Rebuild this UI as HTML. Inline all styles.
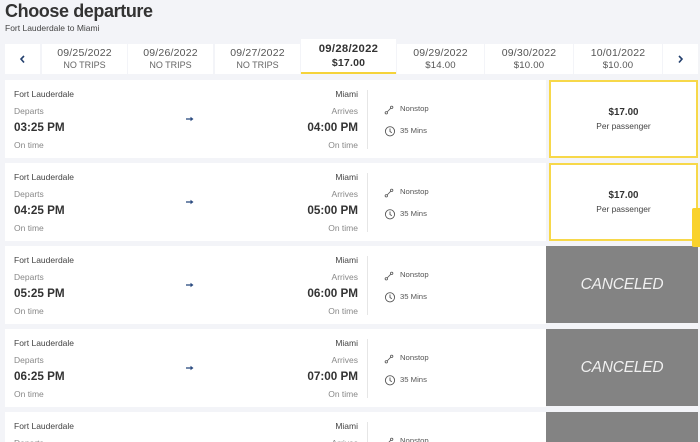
<!DOCTYPE html>
<html><head><meta charset="utf-8"><style>
*{margin:0;padding:0;box-sizing:border-box}
html,body{width:700px;height:442px;overflow:hidden;background:#f3f4f8;font-family:"Liberation Sans",Arial,sans-serif;color:#333}
#wrap{position:relative;width:700px;height:442px;overflow:hidden;background:#f3f4f8}
.a{position:absolute;white-space:nowrap}
.t{line-height:12px;height:12px}
.cell{position:absolute;top:44px;height:30px;background:#fff}
.dd{position:absolute;left:0;right:0;text-align:center;font-size:10.5px;color:#555;line-height:12px;letter-spacing:0.2px}
.ds{position:absolute;left:0;right:0;text-align:center;font-size:9px;color:#666;line-height:12px}
.row{position:absolute;left:5px;width:541px;height:78px;background:#fff}
.sm{font-size:8.5px;color:#444}
.gy{font-size:8.5px;color:#888}
.tm{font-size:11.7px;font-weight:bold;color:#333}
.r{text-align:right;width:150px}
.div{position:absolute;left:367px;width:1px;height:59px;background:#e6e6e6}
.ns{font-size:7.7px;color:#555}
.pb{position:absolute;left:549px;width:149px;height:78px;border:2px solid #f7d84a;background:#fff}
.cb{position:absolute;left:546px;width:152px;height:77px;background:#838383}
.cx{position:absolute;left:0;right:0;top:30px;text-align:center;font-size:15.5px;font-style:italic;color:#f0f0f0;line-height:18px;letter-spacing:-0.2px}
</style></head><body><div id="wrap">

<div class="a" style="left:5px;top:0;font-size:18px;font-weight:bold;line-height:22px;letter-spacing:-0.4px;color:#333">Choose departure</div>
<div class="a t" style="left:5px;top:22px;font-size:8.5px;color:#444">Fort Lauderdale to Miami</div>

<!-- date bar -->
<div class="cell" style="left:5px;width:35px"><svg width="35" height="30" style="position:absolute;left:0;top:0"><polyline points="19,12 16,15 19,18.5" fill="none" stroke="#24406e" stroke-width="1.6"/></svg></div>
<div class="cell" style="left:42px;width:85px"><div class="dd" style="top:2.5px">09/25/2022</div><div class="ds" style="top:15px">NO TRIPS</div></div>
<div class="cell" style="left:128px;width:85px"><div class="dd" style="top:2.5px">09/26/2022</div><div class="ds" style="top:15px">NO TRIPS</div></div>
<div class="cell" style="left:215px;width:85px"><div class="dd" style="top:2.5px">09/27/2022</div><div class="ds" style="top:15px">NO TRIPS</div></div>
<div class="cell" style="left:301px;width:95px;top:39px;height:35px;border-bottom:2px solid #f5d33a"><div class="dd" style="top:4px;font-size:11.3px;font-weight:bold;color:#333;letter-spacing:0.3px">09/28/2022</div><div class="dd" style="top:17.5px;font-size:10.5px;font-weight:bold;color:#333">$17.00</div></div>
<div class="cell" style="left:397px;width:87px"><div class="dd" style="top:2.5px">09/29/2022</div><div class="dd" style="top:15.5px;font-size:9.6px">$14.00</div></div>
<div class="cell" style="left:485px;width:88px"><div class="dd" style="top:2.5px">09/30/2022</div><div class="dd" style="top:15.5px;font-size:9.6px">$10.00</div></div>
<div class="cell" style="left:574px;width:88px"><div class="dd" style="top:2.5px">10/01/2022</div><div class="dd" style="top:15.5px;font-size:9.6px">$10.00</div></div>
<div class="cell" style="left:663px;width:35px"><svg width="35" height="30" style="position:absolute;left:0;top:0"><polyline points="16,12 19,15 16,18.5" fill="none" stroke="#24406e" stroke-width="1.6"/></svg></div>

<!-- Row 1 -->
<div class="row" style="top:80px"></div>
<div class="a t sm" style="left:14px;top:88px">Fort Lauderdale</div>
<div class="a t gy" style="left:14px;top:105px">Departs</div>
<div class="a t tm" style="left:14px;top:122px">03:25 PM</div>
<div class="a t gy" style="left:14px;top:138.5px">On time</div>
<div class="a t sm r" style="left:208px;top:88px">Miami</div>
<div class="a t gy r" style="left:208px;top:105px">Arrives</div>
<div class="a t tm r" style="left:208px;top:122px">04:00 PM</div>
<div class="a t gy r" style="left:208px;top:138.5px">On time</div>
<svg class="a" style="left:186px;top:116px" width="8" height="6"><path d="M0 3H6" stroke="#2a4a7f" stroke-width="1.3"/><path d="M4.5 0.8L7.5 3L4.5 5.2Z" fill="#2a4a7f"/></svg>
<div class="div" style="top:90px"></div>
<svg class="a" style="left:384px;top:105px" width="10" height="10"><circle cx="2.3" cy="7.8" r="1.2" fill="none" stroke="#555" stroke-width="0.8"/><circle cx="7.7" cy="2.3" r="1.2" fill="none" stroke="#555" stroke-width="0.8"/><path d="M3.2 6.9L6.8 3.2" stroke="#555" stroke-width="0.8"/></svg>
<div class="a t ns" style="left:400px;top:102.7px">Nonstop</div>
<svg class="a" style="left:384px;top:125px" width="12" height="12"><circle cx="6" cy="6.3" r="4.6" fill="none" stroke="#555" stroke-width="0.9"/><path d="M6 3.5V6.5L7.8 7.8" fill="none" stroke="#555" stroke-width="0.9"/></svg>
<div class="a t ns" style="left:400px;top:125.3px">35 Mins</div>
<div class="pb" style="top:80px"><div class="a t" style="left:0;right:0;top:24.5px;text-align:center;font-size:9.8px;font-weight:bold;color:#333">$17.00</div><div class="a t" style="left:0;right:0;top:37.5px;text-align:center;font-size:8.4px;color:#444">Per passenger</div></div>

<!-- Row 2 -->
<div class="row" style="top:163px"></div>
<div class="a t sm" style="left:14px;top:171px">Fort Lauderdale</div>
<div class="a t gy" style="left:14px;top:188px">Departs</div>
<div class="a t tm" style="left:14px;top:205px">04:25 PM</div>
<div class="a t gy" style="left:14px;top:221.5px">On time</div>
<div class="a t sm r" style="left:208px;top:171px">Miami</div>
<div class="a t gy r" style="left:208px;top:188px">Arrives</div>
<div class="a t tm r" style="left:208px;top:205px">05:00 PM</div>
<div class="a t gy r" style="left:208px;top:221.5px">On time</div>
<svg class="a" style="left:186px;top:199px" width="8" height="6"><path d="M0 3H6" stroke="#2a4a7f" stroke-width="1.3"/><path d="M4.5 0.8L7.5 3L4.5 5.2Z" fill="#2a4a7f"/></svg>
<div class="div" style="top:173px"></div>
<svg class="a" style="left:384px;top:188px" width="10" height="10"><circle cx="2.3" cy="7.8" r="1.2" fill="none" stroke="#555" stroke-width="0.8"/><circle cx="7.7" cy="2.3" r="1.2" fill="none" stroke="#555" stroke-width="0.8"/><path d="M3.2 6.9L6.8 3.2" stroke="#555" stroke-width="0.8"/></svg>
<div class="a t ns" style="left:400px;top:185.7px">Nonstop</div>
<svg class="a" style="left:384px;top:208px" width="12" height="12"><circle cx="6" cy="6.3" r="4.6" fill="none" stroke="#555" stroke-width="0.9"/><path d="M6 3.5V6.5L7.8 7.8" fill="none" stroke="#555" stroke-width="0.9"/></svg>
<div class="a t ns" style="left:400px;top:208.3px">35 Mins</div>
<div class="pb" style="top:163px"><div class="a t" style="left:0;right:0;top:24.5px;text-align:center;font-size:9.8px;font-weight:bold;color:#333">$17.00</div><div class="a t" style="left:0;right:0;top:37.5px;text-align:center;font-size:8.4px;color:#444">Per passenger</div></div>

<!-- Row 3 -->
<div class="row" style="top:246px"></div>
<div class="a t sm" style="left:14px;top:254px">Fort Lauderdale</div>
<div class="a t gy" style="left:14px;top:271px">Departs</div>
<div class="a t tm" style="left:14px;top:288px">05:25 PM</div>
<div class="a t gy" style="left:14px;top:304.5px">On time</div>
<div class="a t sm r" style="left:208px;top:254px">Miami</div>
<div class="a t gy r" style="left:208px;top:271px">Arrives</div>
<div class="a t tm r" style="left:208px;top:288px">06:00 PM</div>
<div class="a t gy r" style="left:208px;top:304.5px">On time</div>
<svg class="a" style="left:186px;top:282px" width="8" height="6"><path d="M0 3H6" stroke="#2a4a7f" stroke-width="1.3"/><path d="M4.5 0.8L7.5 3L4.5 5.2Z" fill="#2a4a7f"/></svg>
<div class="div" style="top:256px"></div>
<svg class="a" style="left:384px;top:271px" width="10" height="10"><circle cx="2.3" cy="7.8" r="1.2" fill="none" stroke="#555" stroke-width="0.8"/><circle cx="7.7" cy="2.3" r="1.2" fill="none" stroke="#555" stroke-width="0.8"/><path d="M3.2 6.9L6.8 3.2" stroke="#555" stroke-width="0.8"/></svg>
<div class="a t ns" style="left:400px;top:268.7px">Nonstop</div>
<svg class="a" style="left:384px;top:291px" width="12" height="12"><circle cx="6" cy="6.3" r="4.6" fill="none" stroke="#555" stroke-width="0.9"/><path d="M6 3.5V6.5L7.8 7.8" fill="none" stroke="#555" stroke-width="0.9"/></svg>
<div class="a t ns" style="left:400px;top:291.3px">35 Mins</div>
<div class="cb" style="top:246px"><div class="cx">CANCELED</div></div>

<!-- Row 4 -->
<div class="row" style="top:329px"></div>
<div class="a t sm" style="left:14px;top:337px">Fort Lauderdale</div>
<div class="a t gy" style="left:14px;top:354px">Departs</div>
<div class="a t tm" style="left:14px;top:371px">06:25 PM</div>
<div class="a t gy" style="left:14px;top:387.5px">On time</div>
<div class="a t sm r" style="left:208px;top:337px">Miami</div>
<div class="a t gy r" style="left:208px;top:354px">Arrives</div>
<div class="a t tm r" style="left:208px;top:371px">07:00 PM</div>
<div class="a t gy r" style="left:208px;top:387.5px">On time</div>
<svg class="a" style="left:186px;top:365px" width="8" height="6"><path d="M0 3H6" stroke="#2a4a7f" stroke-width="1.3"/><path d="M4.5 0.8L7.5 3L4.5 5.2Z" fill="#2a4a7f"/></svg>
<div class="div" style="top:339px"></div>
<svg class="a" style="left:384px;top:354px" width="10" height="10"><circle cx="2.3" cy="7.8" r="1.2" fill="none" stroke="#555" stroke-width="0.8"/><circle cx="7.7" cy="2.3" r="1.2" fill="none" stroke="#555" stroke-width="0.8"/><path d="M3.2 6.9L6.8 3.2" stroke="#555" stroke-width="0.8"/></svg>
<div class="a t ns" style="left:400px;top:351.7px">Nonstop</div>
<svg class="a" style="left:384px;top:374px" width="12" height="12"><circle cx="6" cy="6.3" r="4.6" fill="none" stroke="#555" stroke-width="0.9"/><path d="M6 3.5V6.5L7.8 7.8" fill="none" stroke="#555" stroke-width="0.9"/></svg>
<div class="a t ns" style="left:400px;top:374.3px">35 Mins</div>
<div class="cb" style="top:329px"><div class="cx">CANCELED</div></div>

<!-- Row 5 (partial, clipped) -->
<div class="row" style="top:412px;height:30px"></div>
<div class="a t sm" style="left:14px;top:420px">Fort Lauderdale</div>
<div class="a sm" style="left:14px;top:437px;height:5px;overflow:hidden;line-height:12px;color:#888">Departs</div>
<div class="a t sm r" style="left:208px;top:420px">Miami</div>
<div class="a sm r" style="left:208px;top:437px;height:5px;overflow:hidden;line-height:12px;color:#888">Arrives</div>
<div class="div" style="top:422px;height:20px"></div>
<svg class="a" style="left:384px;top:437px" width="10" height="5"><circle cx="7.7" cy="2.3" r="1.2" fill="none" stroke="#555" stroke-width="0.8"/><path d="M3.2 6.9L6.8 3.2" stroke="#555" stroke-width="0.8"/></svg>
<div class="a ns" style="left:400px;top:434.7px;height:7px;overflow:hidden;line-height:12px">Nonstop</div>
<div class="cb" style="top:412px;height:30px"></div>

<!-- yellow side tab -->
<div class="a" style="left:692px;top:208px;width:8px;height:39px;background:#f9d22c;border-radius:2px 0 0 2px"></div>

</div></body></html>
